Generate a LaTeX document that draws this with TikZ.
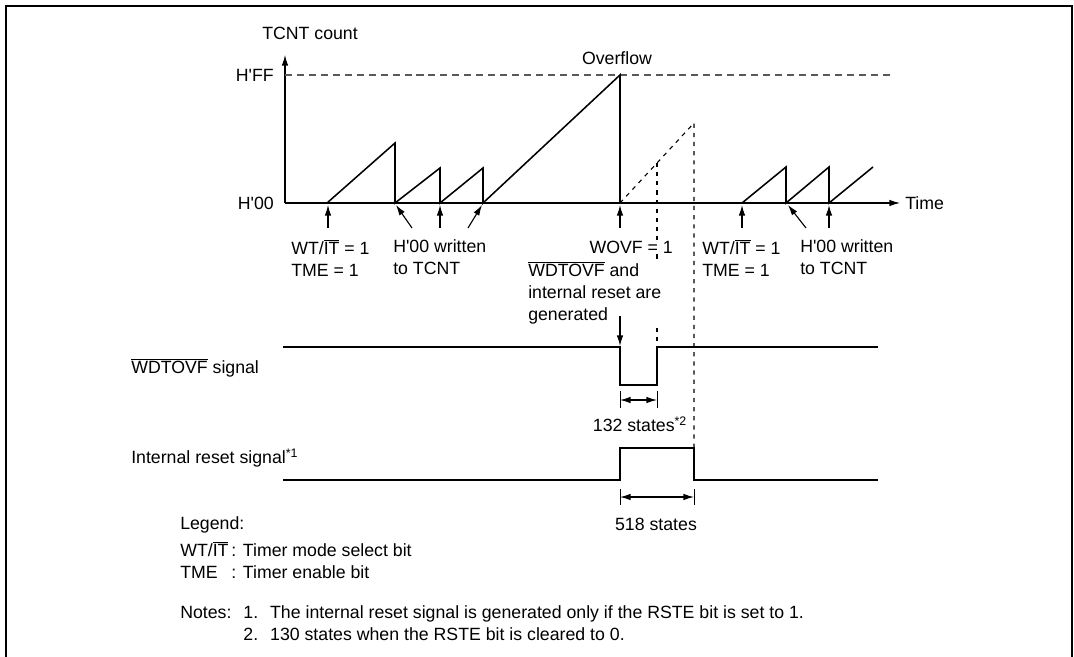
\documentclass[tikz,border=0pt]{standalone}
\usepackage{fontspec}
\setmainfont{Liberation Sans}
\usetikzlibrary{arrows.meta,positioning}
\newcommand{\apos}{\textquotesingle}
\newcommand{\barwd}{$\overline{\mbox{WDTOVF}}$}
\newcommand{\barit}{WT/$\overline{\mbox{IT}}$}

\begin{document}
\begin{tikzpicture}[x=0.025cm, y=-0.025cm,
  lbl/.style={inner sep=0pt, font=\fontsize{12.6}{15.6}\selectfont},
  blk/.style={lbl, align=left, anchor=north west},
  wave/.style={line width=1.1pt},
  arrow/.style={-{Latex[length=7.5pt,width=4.6pt]}, line width=0.8pt},
  dim/.style={{Latex[length=7.5pt,width=4.6pt]}-{Latex[length=7.5pt,width=4.6pt]}, line width=0.8pt},
  guide/.style={line width=0.8pt, dash pattern=on 3pt off 3.5pt},
  ffline/.style={line width=0.8pt, gray!70!black, dash pattern=on 5pt off 3.5pt}
]
  \useasboundingbox (0,0) rectangle (1074,657);
  \draw[line width=1.8pt] (6,657) -- (6,6) -- (1072,6) -- (1072,657);

  \coordinate (o) at (285,203);
  \coordinate (ytop) at (285,55);
  \coordinate (xend) at (900,203);
  \coordinate (ovf) at (620,203);
  \draw[arrow] (o) -- (ytop);
  \draw[arrow] (o) -- (xend);
  \draw[ffline] (285,75) -- (890,75);

  \node[lbl] (tcnt) at (310,33) {TCNT count};
  \node[lbl, anchor=east] (hff) at (274,75) {H\apos FF};
  \node[lbl, anchor=east] (h00) at (274,203) {H\apos 00};
  \node[lbl] (ovfl) at (617,58) {Overflow};
  \node[lbl, anchor=west] (time) at (905,203) {Time};

  \draw[wave] (327,203) -- (395,143) -- (395,203) -- (440,168) -- (440,203)
    -- (483,168) -- (483,203) -- (620,75) -- (ovf);
  \draw[wave] (742,203) -- (786,167) -- (786,203) -- (829,167) -- (829,203) -- (873,167);
  \draw[guide] (ovf) -- (694,123) -- (694,448);
  \draw[guide] (657,163) -- (657,347);

  \foreach \x in {328,440,620,742,829}
    \draw[arrow] (\x,228) -- (\x,205);
  \draw[arrow] (412,228) -- (396,205);
  \draw[arrow] (468,228) -- (482,205);
  \draw[arrow] (806,228) -- (788,205);

  \node[blk] (en1) at (291,239) {\barit{} = 1\\TME = 1};
  \node[blk] (wr1) at (393,239) {H\apos 00 written\\to TCNT};
  \node[lbl, anchor=east, fill=white] (wovf) at (673,247) {WOVF = 1};
  \node[blk, fill=white] (gen) at (528,261) {\barwd{} and\\internal reset are\\generated};
  \node[blk] (en2) at (702,239) {\barit{} = 1\\TME = 1};
  \node[blk] (wr2) at (800,239) {H\apos 00 written\\to TCNT};
  \draw[arrow] (620,316) -- (620,346);

  \node[lbl, anchor=west] (wdsig) at (131,368) {\barwd{} signal};
  \node[lbl, anchor=west] (rstsig) at (131,458) {Internal reset signal\textsuperscript{*1}};
  \draw[wave] (283,347) -- (620,347) -- (620,385) -- (657,385) -- (657,347) -- (878,347);
  \draw[wave] (283,480) -- (620,480) -- (620,448) -- (694,448) -- (694,480) -- (878,480);

  \draw[line width=0.7pt] (620,391) -- (620,408) (657,391) -- (657,408);
  \draw[dim] (620,400) -- (657,400);
  \node[lbl] (s132) at (640,424) {132 states\textsuperscript{*2}};
  \draw[line width=0.7pt] (620,489) -- (620,505) (694,489) -- (694,505);
  \draw[dim] (620,497) -- (694,497);
  \node[lbl] (s518) at (656,524) {518 states};

  \node[lbl, anchor=west] (legend) at (180,525) {Legend:};
  \node[lbl, anchor=north west] (lgtab) at (180,541) {%
    \begin{tabular}{@{}l@{\,}l@{}}
      \barit & : Timer mode select bit\\
      TME & : Timer enable bit
    \end{tabular}};
  \node[lbl, anchor=north west] (notes) at (180,603) {%
    \begin{tabular}{@{}l@{\hspace{8.5pt}}l@{\hspace{8.5pt}}l@{}}
      Notes: & 1. & The internal reset signal is generated only if the RSTE bit is set to 1.\\
       & 2. & 130 states when the RSTE bit is cleared to 0.
    \end{tabular}};
\end{tikzpicture}
\end{document}
